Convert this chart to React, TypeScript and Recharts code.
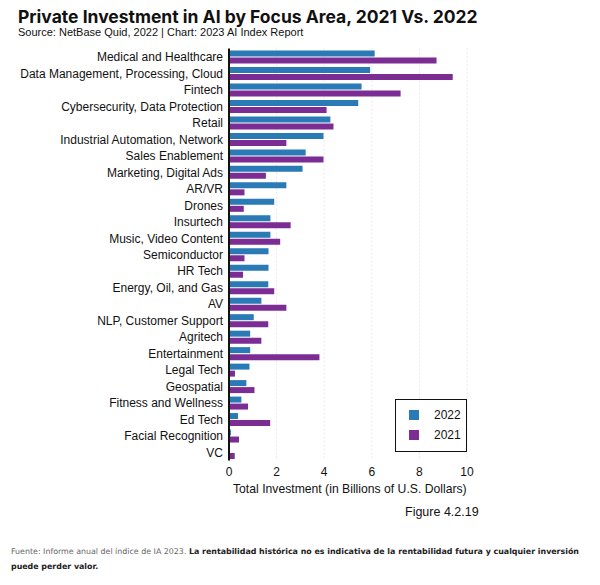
import { BarChart, Bar, XAxis, YAxis, CartesianGrid } from "recharts";

const categories = [
  "Medical and Healthcare",
  "Data Management, Processing, Cloud",
  "Fintech",
  "Cybersecurity, Data Protection",
  "Retail",
  "Industrial Automation, Network",
  "Sales Enablement",
  "Marketing, Digital Ads",
  "AR/VR",
  "Drones",
  "Insurtech",
  "Music, Video Content",
  "Semiconductor",
  "HR Tech",
  "Energy, Oil, and Gas",
  "AV",
  "NLP, Customer Support",
  "Agritech",
  "Entertainment",
  "Legal Tech",
  "Geospatial",
  "Fitness and Wellness",
  "Ed Tech",
  "Facial Recognition",
  "VC",
];

const values2022 = [
  6.12, 5.93, 5.57, 5.43, 4.26, 3.97, 3.22, 3.09, 2.41, 1.9, 1.74, 1.74, 1.66,
  1.66, 1.65, 1.36, 1.04, 0.89, 0.89, 0.86, 0.73, 0.52, 0.38, 0.08, 0.02,
];

const values2021 = [
  8.72, 9.4, 7.21, 4.1, 4.39, 2.41, 3.97, 1.55, 0.65, 0.62, 2.59, 2.15, 0.65,
  0.59, 1.9, 2.41, 1.65, 1.36, 3.8, 0.25, 1.07, 0.8, 1.73, 0.42, 0.24,
];

const xTicks = [0, 2, 4, 6, 8, 10];

const BLUE = "#2a7ab6";
const PURPLE = "#7b2d94";
const FONT = "'Liberation Sans', Arial, sans-serif";

const data = categories.map((name, i) => ({
  name,
  y2022: values2022[i],
  y2021: values2021[i],
}));

// page coords -> root coords (body margin 8px)
const at = (x: number, y: number) => ({ position: "absolute" as const, left: x - 8, top: y - 8 });

const CategoryTick = (props: any) => {
  const { x, y, payload } = props;
  return (
    <text x={x} y={y} dy={4.5} textAnchor="end" fontSize={12} fill="#111" fontFamily={FONT}>
      {payload.value}
    </text>
  );
};

const footStyle = {
  fontFamily: "'DejaVu Sans', sans-serif",
  fontSize: 7.9,
  whiteSpace: "nowrap" as const,
  color: "#222",
};

export default function App() {
  return (
    <div style={{ position: "relative", width: 584, height: 569, fontFamily: FONT, color: "#111" }}>
      <div style={{ ...at(0, 0), width: 600, height: 585 }}>
        <BarChart
          width={600}
          height={585}
          data={data}
          layout="vertical"
          margin={{ top: 48.5, right: 133, left: 0, bottom: 94.5 }}
          barSize={6}
          barGap={1}
        >
          <CartesianGrid horizontal={false} stroke="#e8e8e8" strokeDasharray="2 2" />
          <XAxis
            type="number"
            domain={[0, 10]}
            ticks={xTicks}
            axisLine={false}
            tickLine={false}
            tickSize={2}
            tickMargin={5}
            height={30}
            tick={{ fontSize: 12, fill: "#111", fontFamily: FONT }}
          />
          <YAxis
            type="category"
            dataKey="name"
            width={229}
            interval={0}
            axisLine={{ stroke: "#111", strokeWidth: 2 }}
            tickLine={false}
            tickSize={0}
            tickMargin={6}
            tick={<CategoryTick />}
          />
          <Bar dataKey="y2022" fill={BLUE} isAnimationActive={false} />
          <Bar dataKey="y2021" fill={PURPLE} isAnimationActive={false} />
        </BarChart>
      </div>

      <div style={{ ...at(18, 6), fontFamily: "Inter, sans-serif", fontWeight: 700, fontSize: 17.5, whiteSpace: "nowrap" }}>
        Private Investment in AI by Focus Area, 2021 Vs. 2022
      </div>
      <div style={{ ...at(18, 26), fontSize: 11, whiteSpace: "nowrap" }}>
        Source: NetBase Quid, 2022 | Chart: 2023 AI Index Report
      </div>

      <div
        style={{
          ...at(395, 399),
          width: 70,
          height: 51,
          border: "1.5px solid #111",
          background: "#fff",
          fontSize: 12,
        }}
      >
        <div style={{ position: "absolute", left: 13, top: 10, width: 10, height: 10, background: BLUE }} />
        <div style={{ position: "absolute", left: 38, top: 8 }}>2022</div>
        <div style={{ position: "absolute", left: 13, top: 30, width: 10, height: 10, background: PURPLE }} />
        <div style={{ position: "absolute", left: 38, top: 28 }}>2021</div>
      </div>

      <div style={{ ...at(233, 482), fontSize: 12.2, whiteSpace: "nowrap" }}>
        Total Investment (in Billions of U.S. Dollars)
      </div>
      <div style={{ ...at(405, 505), fontSize: 12.5, whiteSpace: "nowrap" }}>Figure 4.2.19</div>

      <div style={{ ...at(11, 547), ...footStyle }}>
        <span style={{ color: "#666" }}>Fuente: Informe anual del índice de IA 2023.</span>{" "}
        <span style={{ fontWeight: 700 }}>
          La rentabilidad histórica no es indicativa de la rentabilidad futura y cualquier inversión
        </span>
      </div>
      <div style={{ ...at(11, 562), ...footStyle, fontWeight: 700 }}>puede perder valor.</div>
    </div>
  );
}
